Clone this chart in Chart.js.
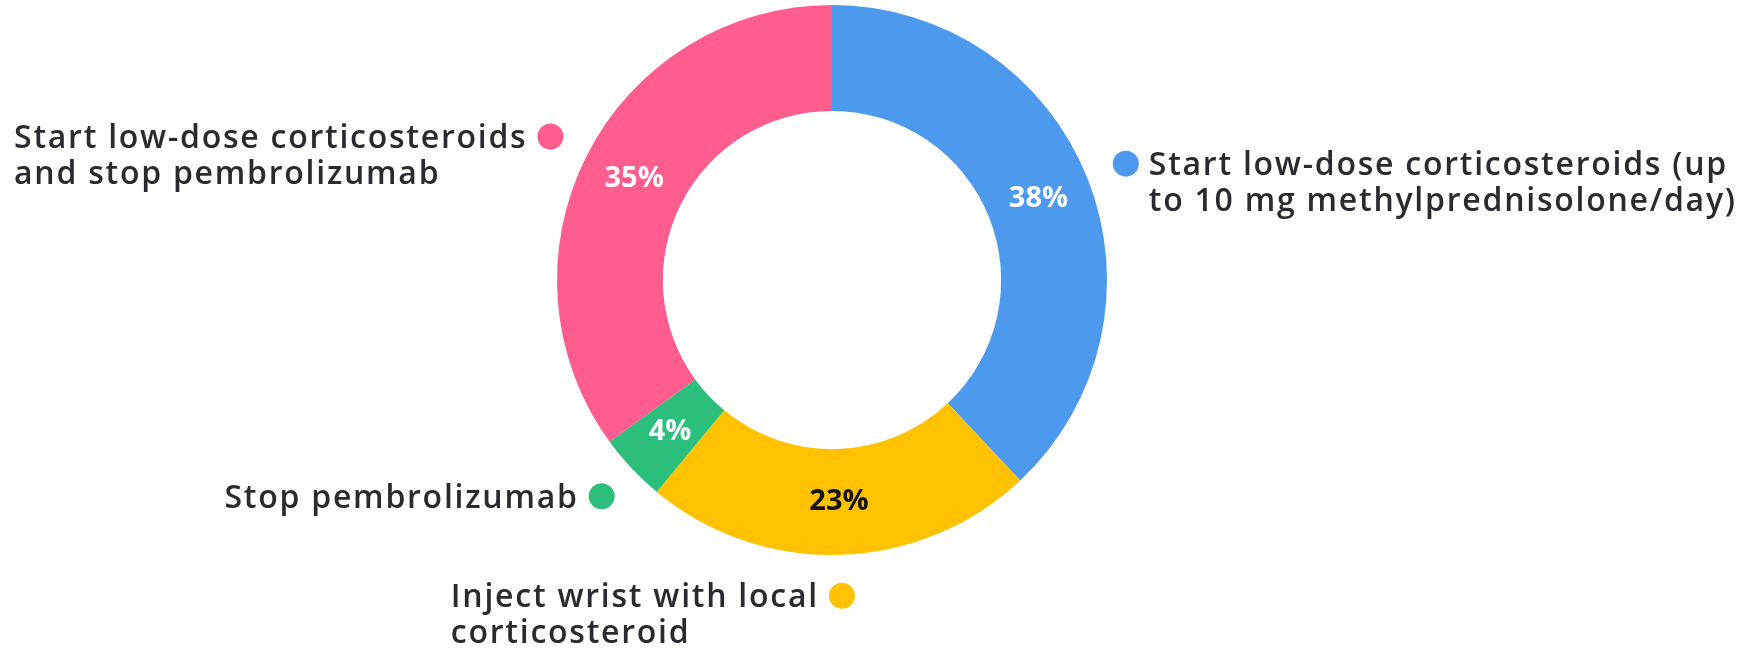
<!DOCTYPE html>
<html>
<head>
<meta charset="utf-8">
<script src="https://cdn.jsdelivr.net/npm/chart.js@4/dist/chart.umd.min.js"></script>
<style>
  html, body { margin: 0; padding: 0; background: #fff; }
  #wrap { position: relative; width: 1739px; height: 651px; }
</style>
</head>
<body>
<div id="wrap"><canvas id="treatmentChart"></canvas></div>
<script>
// answer options, each split into the lines shown next to the ring
const categories = [
    ["Start low-dose corticosteroids (up", "to 10 mg methylprednisolone/day)"],
    ["Inject wrist with local", "corticosteroid"],
    ["Stop pembrolizumab"],
    ["Start low-dose corticosteroids", "and stop pembrolizumab"]
];
const shares = [38, 23, 4, 35];
const sliceColors = ["#4d99ee", "#fec200", "#2cbf7c", "#fe5d8d"];
const valueTextColors = ["#ffffff", "#111111", "#ffffff", "#ffffff"];

const FONT = "'Open Sans', 'Noto Sans', sans-serif";

/* percent inside each slice + dot and caption outside it */
const sliceLabels = {
    id: "sliceLabels",
    afterDatasetsDraw(chart, args, opts) {
        const ctx = chart.ctx;
        const meta = chart.getDatasetMeta(0);
        meta.data.forEach((arc, i) => {
            const p = arc.getProps(["x", "y", "startAngle", "endAngle", "outerRadius"], true);
            const mid = (p.startAngle + p.endAngle) / 2;

            // value
            const c = arc.tooltipPosition(true);
            ctx.save();
            ctx.font = "bold " + opts.valueSize + "px " + FONT;
            ctx.fillStyle = valueTextColors[i];
            ctx.textAlign = "center";
            ctx.textBaseline = "middle";
            ctx.fillText(chart.data.datasets[0].data[i] + "%", c.x, c.y);
            ctx.restore();

            // marker dot
            const r = p.outerRadius + opts.dotOffset;
            const dx = p.x + Math.cos(mid) * r;
            const dy = p.y + Math.sin(mid) * r;
            ctx.save();
            ctx.beginPath();
            ctx.arc(dx, dy, opts.dotRadius, 0, Math.PI * 2);
            ctx.fillStyle = sliceColors[i];
            ctx.fill();

            // caption, first line's capitals centred on the dot
            const lines = chart.data.labels[i];
            ctx.font = "600 " + opts.textSize + "px " + FONT;
            ctx.letterSpacing = opts.tracking + "px";
            ctx.fillStyle = "#2a2a31";
            ctx.textAlign = "left";
            ctx.textBaseline = "alphabetic";
            const onRight = dx > p.x + 60;
            const first = ctx.measureText(lines[0]).width;
            const tx = onRight
                ? dx + opts.dotRadius + opts.gap
                : dx - opts.dotRadius - opts.gap - first;
            const base = dy + opts.textSize * 0.357;
            lines.forEach((line, k) => {
                ctx.fillText(line, tx, base + k * opts.lineHeight);
            });
            ctx.restore();
        });
    }
};

const chart = new Chart(document.getElementById("treatmentChart"), {
    type: "doughnut",
    data: {
        labels: categories,
        datasets: [{
            data: shares,
            backgroundColor: sliceColors,
            borderWidth: 0
        }]
    },
    options: {
        responsive: true,
        maintainAspectRatio: false,
        animation: false,
        cutout: "61.5%",
        layout: { padding: { top: 5, bottom: 96, left: 0, right: 75 } },
        plugins: {
            legend: { display: false },
            tooltip: { enabled: false },
            sliceLabels: {
                valueSize: 29,
                textSize: 32,
                tracking: 1.75,
                lineHeight: 36,
                dotRadius: 13,
                dotOffset: 41,
                gap: 10
            }
        }
    },
    plugins: [sliceLabels]
});
</script>
</body>
</html>
